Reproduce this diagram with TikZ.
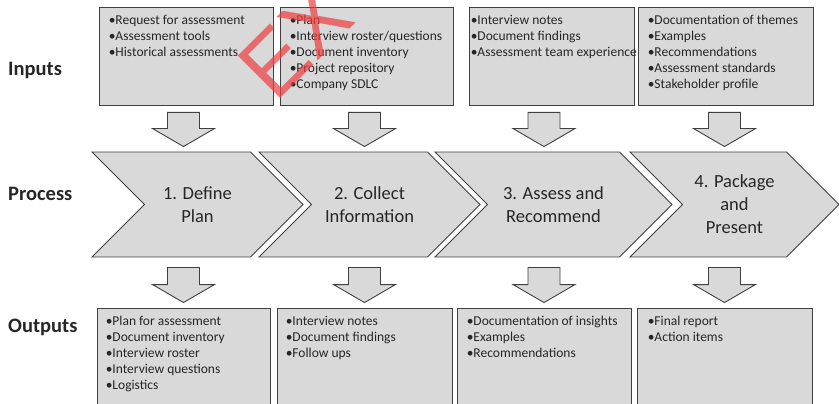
\documentclass[tikz,border=0pt]{standalone}
\usepackage{fontspec}
\setmainfont{Carlito}
\newfontfamily\markfont{Liberation Sans}
\usepackage{tikz}
\usetikzlibrary{shapes.symbols,calc,positioning}
\definecolor{BoxFill}{HTML}{D9D9D9}
\definecolor{EdgeGray}{HTML}{404040}
\definecolor{InkGray}{HTML}{262626}
\definecolor{MarkRed}{HTML}{F03C3C}
\tikzset{
  IB/.style={rectangle,draw=EdgeGray,fill=BoxFill,line width=0.9pt,
             minimum height=98pt,inner sep=0pt},
  OB/.style={IB,minimum height=110pt},
  LT/.style={anchor=north west,inner sep=0pt,align=left,text=InkGray,
             font=\fontsize{13.5}{16}\selectfont},
  CH/.style={signal,signal to=east,signal from=west,
             draw=EdgeGray,fill=BoxFill,line width=0.9pt,
             minimum height=105pt,inner sep=0pt,
             text centered,align=center,text=InkGray,
             font=\fontsize{18.5}{23}\selectfont},
  SL/.style={anchor=base west,inner sep=0pt,text=InkGray,
             font=\fontsize{20.5}{24}\selectfont\bfseries},
  barr/.style={draw=EdgeGray,fill=BoxFill,line width=0.9pt,
    to path={let \p1=(\tikztostart),\p2=(\tikztotarget) in
      (\x1-16pt,\y1)--(\x1+16pt,\y1)--(\x1+16pt,\y2+18pt)--(\x1+31pt,\y2+18pt)
      --(\x1,\y2)--(\x1-31pt,\y2+18pt)--(\x1-16pt,\y2+18pt)--cycle}},
  WM/.style={anchor=base west,rotate=45,inner sep=0pt,text=MarkRed,
             text opacity=0.7,font=\fontsize{87}{87}\selectfont\markfont}
}

\begin{document}
\begin{tikzpicture}[x=1pt,y=-1pt]
  \useasboundingbox (0,0) rectangle (839,404);
  \clip (0,0) rectangle (839,404);

  % row labels
  \node[SL] (inl) at (8,76) {Inputs};
  \node[SL] (prl) at (8,200) {Process};
  \node[SL] (outl) at (8,332) {Outputs};

  % inputs
  \node[IB,minimum width=174pt] (in1) at (186,56) {};
  \node[IB,minimum width=173pt] (in2) at (366.5,56) {};
  \node[IB,minimum width=165pt] (in3) at (551.5,56) {};
  \node[IB,minimum width=175pt] (in4) at (725.5,56) {};
  \node[LT] (in1t) at ($(in1.north west)+(10,8)$)
    {\textbullet Request for assessment\\\textbullet Assessment tools\\\textbullet Historical assessments};
  \node[LT] (in2t) at ($(in2.north west)+(10,8)$)
    {\textbullet Plan\\\textbullet Interview roster/questions\\\textbullet Document inventory\\\textbullet Project repository\\\textbullet Company SDLC};
  \node[LT] (in3t) at ($(in3.north west)+(2,8)$)
    {\textbullet Interview notes\\\textbullet Document findings\\\textbullet Assessment team experience};
  \node[LT] (in4t) at ($(in4.north west)+(10,8)$)
    {\textbullet Documentation of themes\\\textbullet Examples\\\textbullet Recommendations\\\textbullet Assessment standards\\\textbullet Stakeholder profile};

  % process steps
  \node[CH,minimum width=211pt] (p1) at (197.5,204.5) {1. Define\\Plan};
  \node[CH,minimum width=221pt] (p2) at (369.5,204.5) {2. Collect\\Information};
  \node[CH,minimum width=237pt] (p3) at (553.5,204.5) {3. Assess and\\Recommend};
  \node[CH,minimum width=209pt] (p4) at (734.5,204.5) {4. Package\\and\\Present};

  % outputs
  \node[OB,minimum width=173pt] (out1) at (183.5,363) {};
  \node[OB,minimum width=175pt] (out2) at (364.5,363) {};
  \node[OB,minimum width=174pt] (out3) at (544,363) {};
  \node[OB,minimum width=175pt] (out4) at (724.5,363) {};
  \node[LT] (out1t) at ($(out1.north west)+(9,8)$)
    {\textbullet Plan for assessment\\\textbullet Document inventory\\\textbullet Interview roster\\\textbullet Interview questions\\\textbullet Logistics};
  \node[LT] (out2t) at ($(out2.north west)+(9,8)$)
    {\textbullet Interview notes\\\textbullet Document findings\\\textbullet Follow ups};
  \node[LT] (out3t) at ($(out3.north west)+(10,8)$)
    {\textbullet Documentation of insights\\\textbullet Examples\\\textbullet Recommendations};
  \node[LT] (out4t) at ($(out4.north west)+(11,8)$)
    {\textbullet Final report\\\textbullet Action items};

  % block arrows
  \foreach \i in {1,...,4}{
    \draw[barr] ($(in\i.south -| out\i.north)+(0,7)$) to ($(p\i.north -| out\i.north)+(0,-5)$);
    \draw[barr] ($(p\i.south -| out\i.north)+(0,10)$) to ($(out\i.north)+(0,-5)$);
  }

  \node[WM] (wm) at (275,104) {EX};
\end{tikzpicture}
\end{document}
